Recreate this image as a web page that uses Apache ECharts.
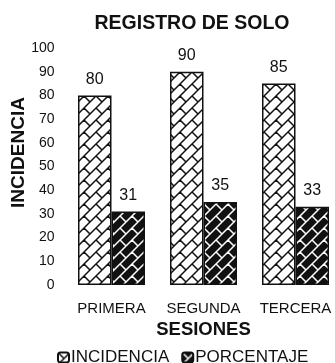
<!DOCTYPE html>
<html><head><meta charset="utf-8">
<script src="https://cdn.jsdelivr.net/npm/echarts@6/dist/echarts.min.js"></script>
<style>html,body{margin:0;padding:0;background:#fff}#c{width:335px;height:363px}</style>
</head><body><div id="c"></div>
<script>
const categories = ['PRIMERA', 'SEGUNDA', 'TERCERA'];
const incidencia = [80, 90, 85];
const porcentaje = [31, 35, 33];
const yTicks = [0, 10, 20, 30, 40, 50, 60, 70, 80, 90, 100];

function brick(bg, fg) {
  const P = 12, Q = 24, T = 24;
  const c = document.createElement('canvas');
  c.width = T; c.height = T;
  const g = c.getContext('2d');
  g.fillStyle = bg; g.fillRect(0, 0, T, T);
  g.strokeStyle = fg; g.lineWidth = 1.5; g.lineCap = 'square';
  g.beginPath();
  for (let r = -3; r <= 8; r++) {
    const cc = r * P;
    g.moveTo(cc + 80, -80); g.lineTo(cc - 80, 80);
  }
  for (let r = -3; r <= 6; r++) {
    const off = (Math.abs(r) % 2 === 1) ? Q / 2 : 0;
    for (let j = -4; j <= 4; j++) {
      const t = j * Q - off;
      const s0 = r * P, s1 = (r + 1) * P;
      g.moveTo((s0 + t) / 2, (s0 - t) / 2);
      g.lineTo((s1 + t) / 2, (s1 - t) / 2);
    }
  }
  g.stroke();
  return c;
}
const whitePat = { image: brick('#ffffff', '#111111'), repeat: 'repeat' };
const blackPat = { image: brick('#111111', '#ffffff'), repeat: 'repeat' };

const chart = echarts.init(document.getElementById('c'));
const font = 'Liberation Sans, Arial, sans-serif';
chart.setOption({
  animation: false,
  title: { text: 'REGISTRO DE SOLO', left: 187, textAlign: 'center', top: 9,
    textStyle: { fontFamily: font, fontSize: 19.5, fontWeight: 'bold', color: '#111' } },
  legend: { left: 52, top: 344, itemWidth: 11, itemHeight: 10, itemGap: 12,
    textStyle: { fontFamily: font, fontSize: 17, color: '#111', padding: [0, 0, 0, -3] },
    data: ['INCIDENCIA', 'PORCENTAJE'] },
  grid: { left: 65.5, top: 48, width: 276, height: 237, containLabel: false, outerBoundsMode: 'none' },
  xAxis: { type: 'category', data: categories,
    axisLine: { show: false }, axisTick: { show: false },
    axisLabel: { interval: 0, fontFamily: font, fontSize: 15, color: '#111', margin: 16 },
    name: 'SESIONES', nameLocation: 'middle', nameGap: 35, nameMoveOverlap: false,
    nameTextStyle: { fontFamily: font, fontSize: 18.5, fontWeight: 'bold', color: '#111' } },
  yAxis: { type: 'value', min: yTicks[0], max: yTicks[yTicks.length - 1], interval: 10,
    axisLine: { show: false }, axisTick: { show: false }, splitLine: { show: false },
    axisLabel: { fontFamily: font, fontSize: 14, color: '#111', margin: 11 },
    name: 'INCIDENCIA', nameLocation: 'middle', nameGap: 37, nameMoveOverlap: false,
    nameTextStyle: { fontFamily: font, fontSize: 19, fontWeight: 'bold', color: '#111', padding: [0, 0, 0, 28] } },
  series: [
    { name: 'INCIDENCIA', type: 'bar', data: incidencia, barWidth: 33.5, barGap: '0%',
      itemStyle: { color: whitePat, borderColor: '#111', borderWidth: 1.5 },
      label: { show: true, position: 'top', distance: 8, fontFamily: font, fontSize: 16, color: '#111' } },
    { name: 'PORCENTAJE', type: 'bar', data: porcentaje, barWidth: 33.5,
      itemStyle: { color: blackPat, borderColor: '#111', borderWidth: 1.5 },
      label: { show: true, position: 'top', distance: 8, fontFamily: font, fontSize: 16, color: '#111' } }
  ]
});
</script></body></html>
